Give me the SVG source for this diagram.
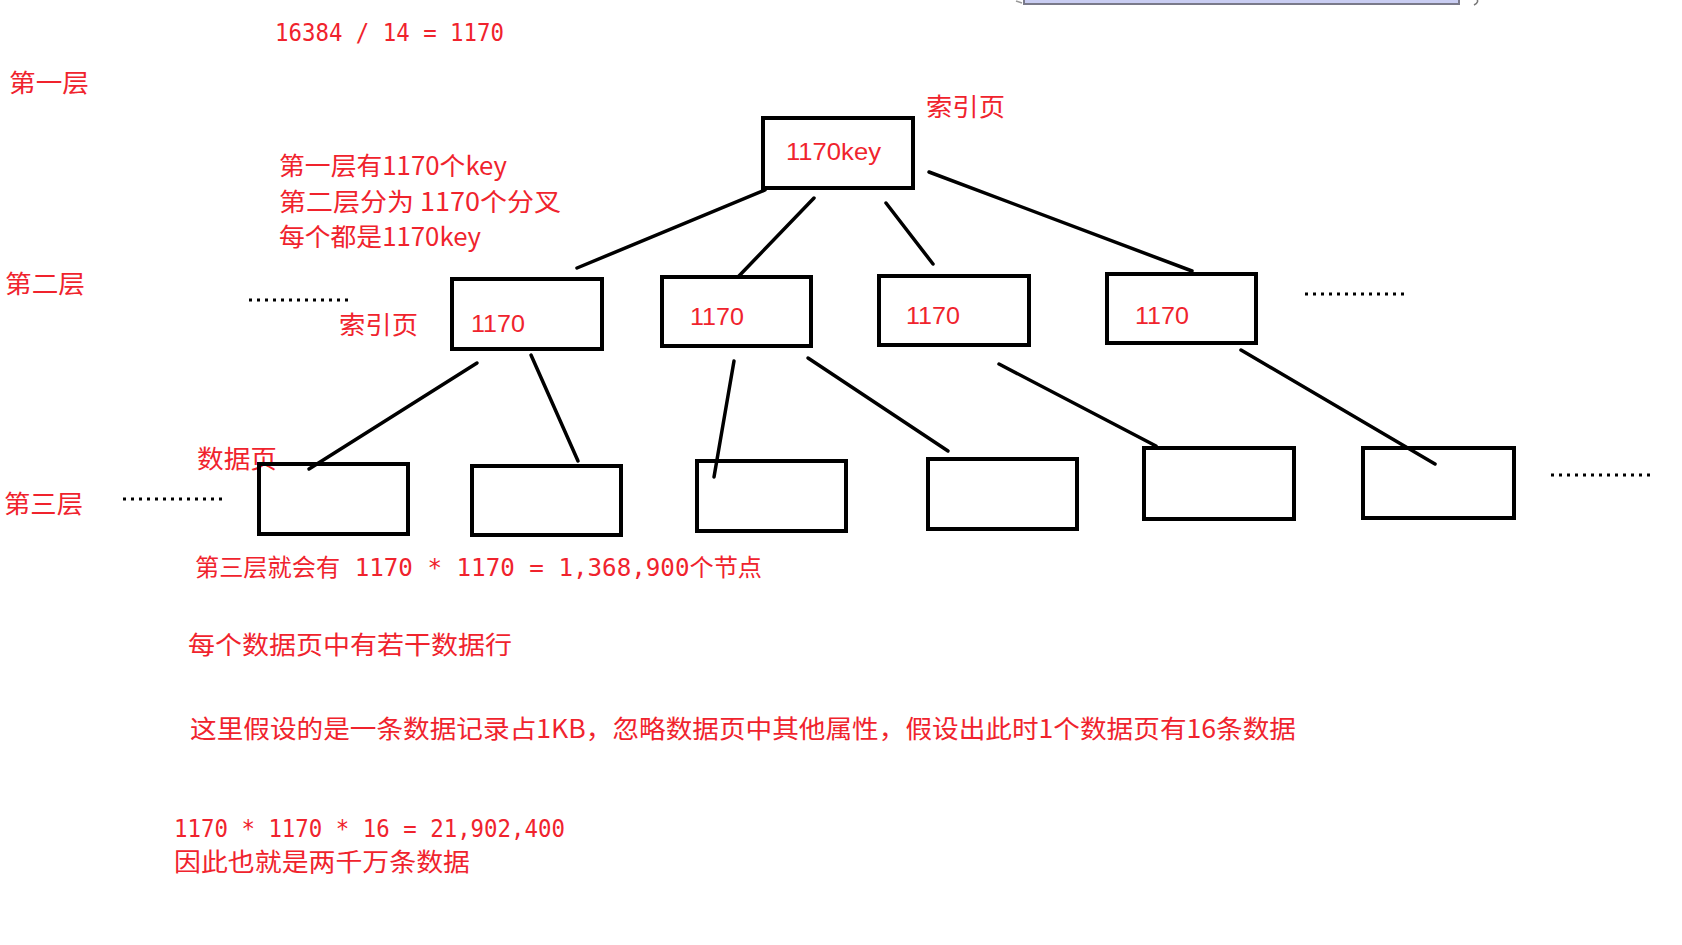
<svg xmlns="http://www.w3.org/2000/svg" width="1682" height="945" viewBox="0 0 1682 945">
<style>
.t{font-family:"Noto Sans CJK SC","Liberation Sans",sans-serif;fill:#f0232d;font-size:25px}
.m{font-family:"DejaVu Sans Mono","Noto Sans CJK SC",monospace;fill:#f0232d;font-size:24px}
.n{font-family:"Liberation Sans","Noto Sans CJK SC",sans-serif;fill:#f0232d;font-size:24px}
.box{fill:none;stroke:#000;stroke-width:4}
.c line{stroke:#000;stroke-width:3.5;stroke-linecap:round}
.dots{stroke:#000;stroke-width:3;stroke-dasharray:3 5}
</style>
<rect width="1682" height="945" fill="#fff"/>
<g id="top-fragment">
<rect x="1024" y="-10" width="435" height="14" fill="#c9cdf2" stroke="#7a7a8a" stroke-width="2"/>
<path d="M1016 1 L1022 3" stroke="#999" stroke-width="1.5" fill="none"/>
<path d="M1476 -2 Q1480 2 1474 5" stroke="#777" stroke-width="1.5" fill="none"/>
</g>
<g id="notes">
<text class="m" x="275" y="41" textLength="229" lengthAdjust="spacingAndGlyphs">16384 / 14 = 1170</text>
<text class="t" x="9" y="92" textLength="80" lengthAdjust="spacingAndGlyphs">第一层</text>
<text class="t" x="279" y="175" textLength="228" lengthAdjust="spacingAndGlyphs">第一层有1170个key</text>
<text class="t" x="279" y="211" textLength="282" lengthAdjust="spacingAndGlyphs">第二层分为 1170个分叉</text>
<text class="t" x="279" y="246" textLength="202" lengthAdjust="spacingAndGlyphs">每个都是1170key</text>
<text class="t" x="5" y="293" textLength="80" lengthAdjust="spacingAndGlyphs">第二层</text>
<text class="t" x="4" y="513" textLength="79" lengthAdjust="spacingAndGlyphs">第三层</text>
<text class="t" x="926" y="116" textLength="79" lengthAdjust="spacingAndGlyphs">索引页</text>
<text class="t" x="339" y="334" textLength="79" lengthAdjust="spacingAndGlyphs">索引页</text>
<text class="t" x="197" y="468" textLength="80" lengthAdjust="spacingAndGlyphs">数据页</text>
<text class="m" x="195" y="576" textLength="567" lengthAdjust="spacingAndGlyphs">第三层就会有 1170 * 1170 = 1,368,900个节点</text>
<text class="t" x="188" y="654" textLength="324" lengthAdjust="spacingAndGlyphs">每个数据页中有若干数据行</text>
<text class="t" x="190" y="738" textLength="1106" lengthAdjust="spacingAndGlyphs">这里假设的是一条数据记录占1KB，忽略数据页中其他属性，假设出此时1个数据页有16条数据</text>
<text class="m" x="174" y="837" textLength="391" lengthAdjust="spacingAndGlyphs">1170 * 1170 * 16 = 21,902,400</text>
<text class="t" x="174" y="871" textLength="296" lengthAdjust="spacingAndGlyphs">因此也就是两千万条数据</text>
</g>
<g id="ellipses">
<line class="dots" x1="249" y1="300" x2="352" y2="300"/>
<line class="dots" x1="1305" y1="294" x2="1408" y2="294"/>
<line class="dots" x1="123" y1="499" x2="225" y2="499"/>
<line class="dots" x1="1551" y1="475" x2="1653" y2="475"/>
</g>
<g class="c" id="connectors">
<line x1="765" y1="190" x2="577" y2="268"/>
<line x1="814" y1="198" x2="738" y2="277"/>
<line x1="886" y1="203" x2="933" y2="264"/>
<line x1="929" y1="172" x2="1192" y2="271"/>
<line x1="477" y1="363" x2="309" y2="469"/>
<line x1="531" y1="355" x2="578" y2="461"/>
<line x1="734" y1="361" x2="714" y2="477"/>
<line x1="808" y1="358" x2="948" y2="451"/>
<line x1="999" y1="364" x2="1156" y2="446"/>
<line x1="1241" y1="350" x2="1435" y2="464"/>
</g>
<g id="root"><rect class="box" x="763" y="118" width="150" height="70"/><text class="n" x="786" y="160" textLength="95" lengthAdjust="spacingAndGlyphs">1170key</text></g>
<g id="l2a"><rect class="box" x="452" y="279" width="150" height="70"/><text class="n" x="471" y="332" textLength="54" lengthAdjust="spacingAndGlyphs">1170</text></g>
<g id="l2b"><rect class="box" x="662" y="277" width="149" height="69"/><text class="n" x="690" y="325" textLength="54" lengthAdjust="spacingAndGlyphs">1170</text></g>
<g id="l2c"><rect class="box" x="879" y="276" width="150" height="69"/><text class="n" x="906" y="324" textLength="54" lengthAdjust="spacingAndGlyphs">1170</text></g>
<g id="l2d"><rect class="box" x="1107" y="274" width="149" height="69"/><text class="n" x="1135" y="324" textLength="54" lengthAdjust="spacingAndGlyphs">1170</text></g>
<g id="l3a"><rect class="box" x="259" y="464" width="149" height="70"/></g>
<g id="l3b"><rect class="box" x="472" y="466" width="149" height="69"/></g>
<g id="l3c"><rect class="box" x="697" y="461" width="149" height="70"/></g>
<g id="l3d"><rect class="box" x="928" y="459" width="149" height="70"/></g>
<g id="l3e"><rect class="box" x="1144" y="448" width="150" height="71"/></g>
<g id="l3f"><rect class="box" x="1363" y="448" width="151" height="70"/></g>
</svg>
